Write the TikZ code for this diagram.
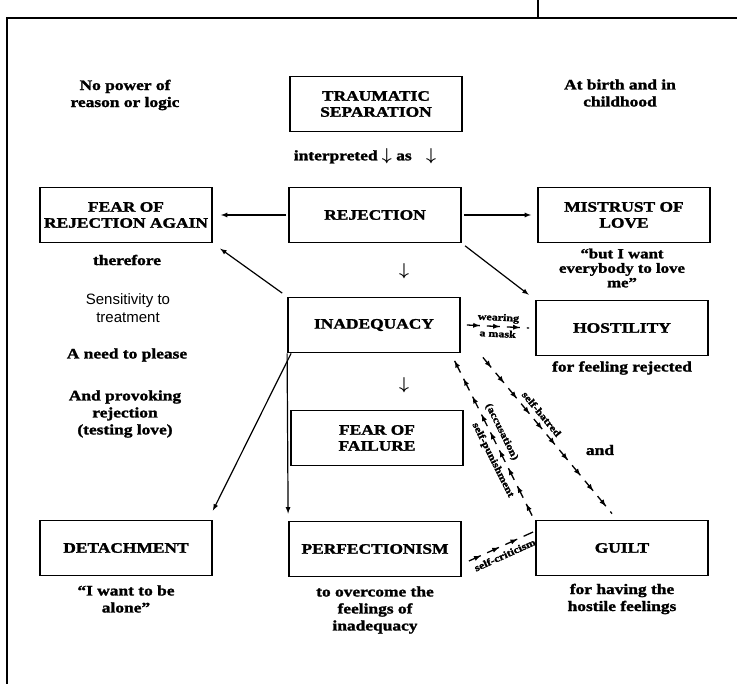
\documentclass[tikz,border=0pt]{standalone}
\usepackage{fontspec}
\setmainfont{Liberation Serif}[FakeStretch=1.2,BoldFeatures={FakeBold=1.6}]
\newfontfamily\helv{Liberation Sans}
\usetikzlibrary{arrows,decorations.markings}
\newcommand{\dnarrow}{{\boldmath\fontsize{18}{18}\selectfont$\downarrow$}}
\tikzstyle{box}=[draw,line width=1.8pt,minimum width=172pt,minimum height=55pt,inner sep=2pt,align=center,font=\bfseries\fontsize{14.5}{16}\selectfont]
\tikzstyle{note}=[align=center,inner sep=1pt,font=\bfseries\fontsize{14.5}{17}\selectfont]
\tikzstyle{edge}=[draw,line width=1.2pt,-latex]
\tikzstyle{chain}=[draw,line width=1.3pt,dash pattern=on 13pt off 7pt,postaction={decorate},
  decoration={markings,mark=between positions 13pt and 1 step 20pt with {\arrow{latex}}}]
\tikzstyle{tag}=[sloped,inner sep=5pt,font=\bfseries\fontsize{10}{10}\selectfont]

\begin{document}
\begin{tikzpicture}[x=1pt,y=-1pt]
\useasboundingbox (0,0) rectangle (737,684);
% frame of the page
\draw[line width=1.2pt] (7,684) -- (7,18) -- (737,18);
\draw[line width=1.2pt] (538,0) -- (538,18);

% Draw the boxes
\foreach \pos/\name/\text in {{(376,104)/trauma/{TRAUMATIC\\SEPARATION}},
    {(126,215)/fearrej/{FEAR OF\\REJECTION AGAIN}}, {(375,215)/rejection/{REJECTION}},
    {(624,215)/mistrust/{MISTRUST OF\\LOVE}}, {(374,325)/inadequacy/{INADEQUACY}},
    {(622,328)/hostility/{HOSTILITY}}, {(377,438)/failure/{FEAR OF\\FAILURE}},
    {(126,548)/detach/{DETACHMENT}}, {(375,549)/perfect/{PERFECTIONISM}},
    {(622,548)/guilt/{GUILT}}}
  \node[box] (\name) at \pos {\text};

% Notes around the boxes
\foreach \pos/\name/\text in {{(125,95)/nopower/{No power of\\reason or logic}},
    {(620,93)/birth/{At birth and in\\childhood}},
    {(365,156)/interp/{interpreted \dnarrow\ as\quad\dnarrow}},
    {(127,260)/therefore/{therefore}}, {(127,355)/please/{A need to please}},
    {(125,414)/provoke/{And provoking\\rejection\\(testing love)}},
    {(622,368)/feelrej/{for feeling rejected}}, {(600,450)/and/{and}},
    {(126,599)/alone/{``I want to be\\alone''}},
    {(375,610)/overcome/{to overcome the\\feelings of\\inadequacy}},
    {(622,599)/having/{for having the\\hostile feelings}},
    {(404,271)/downa/{\dnarrow}}, {(404,385)/downb/{\dnarrow}}}
  \node[note] (\name) at \pos {\text};
\node[note,font=\bfseries\fontsize{14}{14.5}\selectfont] (butwant) at (622,268)
  {``but I want\\everybody to love\\me''};
\node[note,font=\helv\fontsize{15}{18}\selectfont] (sensitive) at (128,308)
  {Sensitivity to\\treatment};

% Connect boxes with arrows
\path[edge,shorten <=2pt,shorten >=8pt] (rejection.west) -- (fearrej.east);
\path[edge,shorten <=2pt,shorten >=6pt] (rejection.east) -- (mistrust.west);
\path[edge,shorten <=6pt,shorten >=9pt] (inadequacy.north west) -- (fearrej.south east);
\path[edge,shorten <=4pt,shorten >=8pt] (rejection.south east) -- (hostility.north west);
\path[edge] ([xshift=4pt]inadequacy.south west) -- ([yshift=9pt]detach.north east);
\path[edge] (inadequacy.south west) -- ([yshift=7pt]perfect.north west);

% the broken arrows with their words
\path[chain] ([xshift=6pt]inadequacy.east) -- node[tag,above,inner sep=3pt] {wearing}
  node[tag,below,inner sep=3pt] {a mask} ([xshift=-6pt]hostility.west);
\path[chain] ([xshift=22pt,yshift=-4pt]inadequacy.south east) --
  node[tag,above,pos=0.4] {self-hatred} ([xshift=-10pt,yshift=6pt]guilt.north);
\path[chain] ([xshift=-3pt,yshift=4pt]guilt.north west) --
  node[tag,above,pos=0.5] {(accusation)}
  node[tag,below,pos=0.38] {self-punishment} ([xshift=-8pt,yshift=-4pt]inadequacy.south east);
\path[chain] ([xshift=7pt,yshift=-12pt]perfect.east) --
  node[tag,below] {self-criticism} ([xshift=-2pt,yshift=16pt]guilt.west);
\end{tikzpicture}
\end{document}
